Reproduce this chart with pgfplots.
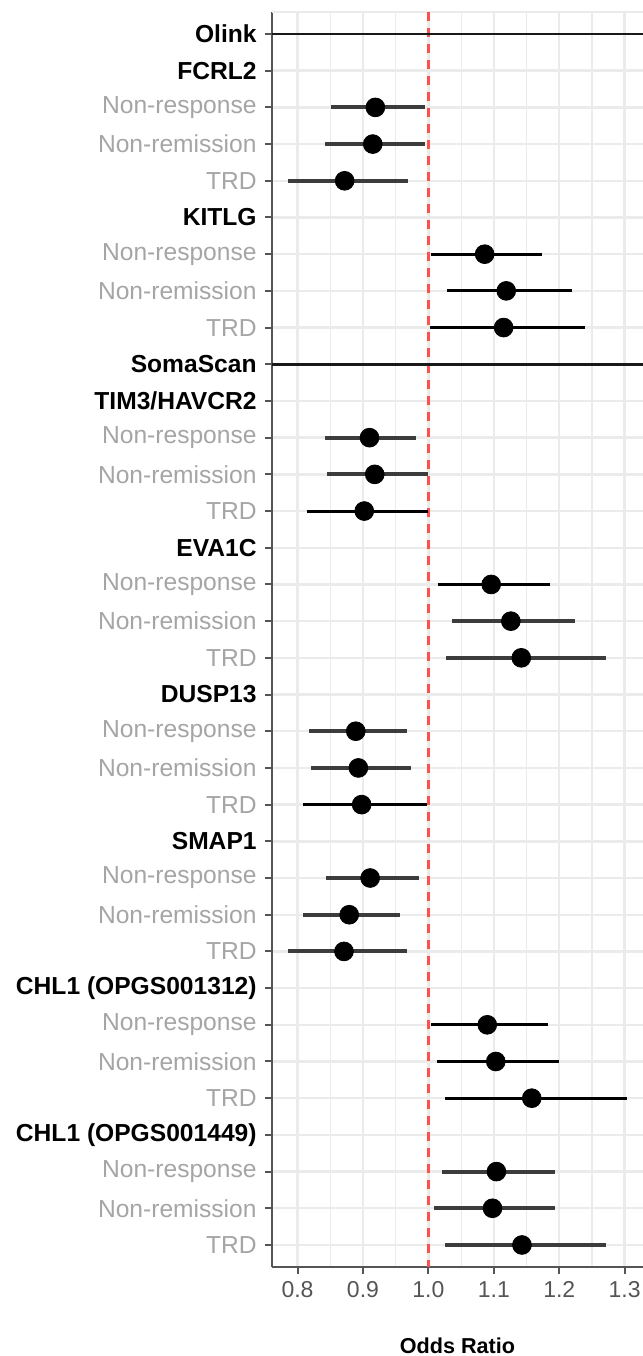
\documentclass[border=0pt]{standalone}
\usepackage{fontspec}
\setmainfont{Liberation Sans}
\usepackage{pgfplots}
\usepackage{pgfplotstable}
\pgfplotsset{compat=1.18}

\definecolor{gridc}{RGB}{235,235,235}
\definecolor{labgray}{RGB}{165,165,165}
\definecolor{axgray}{RGB}{85,85,85}
\definecolor{refred}{RGB}{255,80,80}
\definecolor{cigray}{RGB}{60,60,60}

\newcommand{\grp}[1]{\textbf{#1}}
\newcommand{\lab}[1]{\textcolor{labgray}{#1}}

% rows: 1 = bottom TRD ... 34 = Olink
% thicker, greyer intervals
\pgfplotstableread{
y  or    lo    hi
32 0.919 0.851 0.995
31 0.915 0.842 0.995
30 0.872 0.786 0.969
23 0.910 0.842 0.981
22 0.918 0.845 0.999
18 1.126 1.036 1.224
17 1.142 1.027 1.271
15 0.889 0.818 0.967
14 0.893 0.821 0.974
11 0.911 0.843 0.985
10 0.879 0.808 0.956
9  0.871 0.785 0.967
3  1.104 1.021 1.193
2  1.098 1.008 1.193
1  1.143 1.026 1.271
}\ciA
% thinner, black intervals
\pgfplotstableread{
y  or    lo    hi
28 1.086 1.004 1.174
27 1.119 1.029 1.219
26 1.115 1.002 1.240
21 0.902 0.814 0.999
19 1.096 1.015 1.186
13 0.898 0.808 0.998
7  1.090 1.004 1.183
6  1.103 1.013 1.200
5  1.158 1.026 1.304
}\ciB

\begin{document}
\begin{tikzpicture}
\begin{axis}[
  scale only axis, width=185.5pt, height=627.5pt,
  at={(136pt,44.5pt)}, anchor=south west,
  xmin=0.761, xmax=1.328, ymin=0.4, ymax=34.6,
  xtick={0.8,0.9,1.0,1.1,1.2,1.3},
  xticklabels={0.8,0.9,1.0,1.1,1.2,1.3},
  minor xtick={0.85,0.95,1.05,1.15,1.25},
  ytick={1,...,34},
  yticklabels={
    \lab{TRD},\lab{Non-remission},\lab{Non-response},\grp{CHL1 (OPGS001449)},
    \lab{TRD},\lab{Non-remission},\lab{Non-response},\grp{CHL1 (OPGS001312)},
    \lab{TRD},\lab{Non-remission},\lab{Non-response},\grp{SMAP1},
    \lab{TRD},\lab{Non-remission},\lab{Non-response},\grp{DUSP13},
    \lab{TRD},\lab{Non-remission},\lab{Non-response},\grp{EVA1C},
    \lab{TRD},\lab{Non-remission},\lab{Non-response},\grp{TIM3/HAVCR2},
    \grp{SomaScan},
    \lab{TRD},\lab{Non-remission},\lab{Non-response},\grp{KITLG},
    \lab{TRD},\lab{Non-remission},\lab{Non-response},\grp{FCRL2},
    \grp{Olink}},
  grid=both,
  major grid style={gridc, line width=1.2pt},
  minor grid style={gridc, line width=0.6pt},
  axis lines*=left,
  axis line style={axgray, line width=1.2pt},
  tick align=outside, major tick length=3.5pt, minor tick length=0pt,
  tick style={axgray, line width=1pt},
  yticklabel style={font=\fontsize{12.3}{14}\selectfont, anchor=east, inner sep=0pt, xshift=-4pt},
  xticklabel style={font=\fontsize{11.5}{13}\selectfont, text=axgray, anchor=north, inner sep=0pt, yshift=-3.5pt},
  /pgf/number format/assume math mode=true,
  xlabel={\textbf{Odds Ratio}},
  xlabel style={font=\fontsize{10.8}{12}\selectfont, at={(axis description cs:0.5,0)}, anchor=center, yshift=-39.5pt},
]
\draw[gridc, line width=1.2pt] (rel axis cs:0,1) -- (rel axis cs:1,1);
\addplot[refred, line width=1.6pt, dash pattern=on 4.5pt off 3.5pt] coordinates {(1,34.6) (1,0.4)};
\addplot[only marks, mark=none, error bars/.cd, x dir=both, x explicit, error mark=none,
  error bar style={cigray, line width=2pt, solid}]
  table[x=or, y=y, x error plus expr=\thisrow{hi}-\thisrow{or}, x error minus expr=\thisrow{or}-\thisrow{lo}] {\ciA};
\addplot[only marks, mark=none, error bars/.cd, x dir=both, x explicit, error mark=none,
  error bar style={black, line width=1.5pt, solid}]
  table[x=or, y=y, x error plus expr=\thisrow{hi}-\thisrow{or}, x error minus expr=\thisrow{or}-\thisrow{lo}] {\ciB};
\addplot[only marks, mark=*, mark size=4.7pt, black] table[x=or, y=y] {\ciA};
\addplot[only marks, mark=*, mark size=4.7pt, black] table[x=or, y=y] {\ciB};
% section header lines
\addplot[black!90, line width=1.4pt] coordinates {(0.761,34) (1.328,34)};
\addplot[black!90, line width=1.4pt] coordinates {(0.761,25) (1.328,25)};
\end{axis}
\pgfresetboundingbox
\useasboundingbox (0,0) rectangle (321.5pt,678pt);
\end{tikzpicture}
\end{document}
